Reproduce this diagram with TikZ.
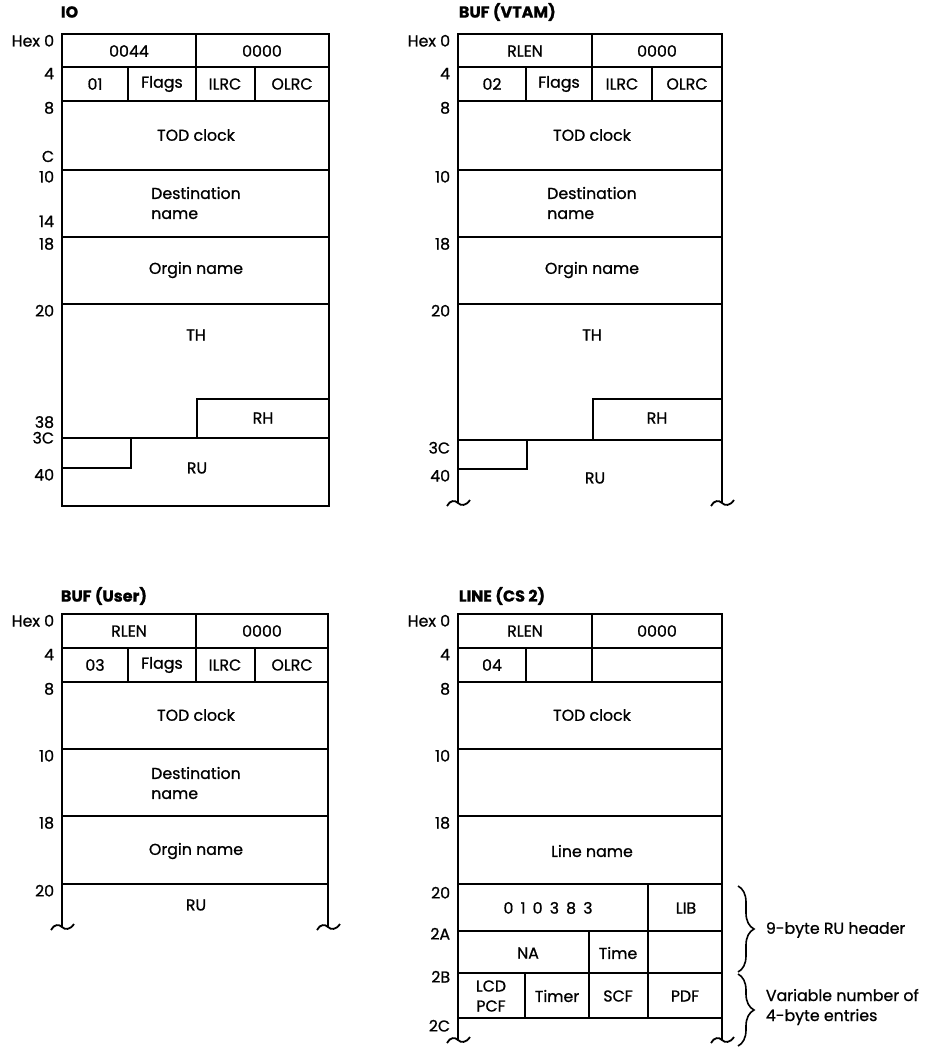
\documentclass[tikz,border=0pt]{standalone}
\usepackage{fontspec}
\setmainfont{Poppins}[FakeBold=0.9]
\usetikzlibrary{decorations.pathreplacing}
\begin{document}
\begin{tikzpicture}[x=0.5pt, y=-0.5pt, line width=0.9pt,
  every node/.style={inner sep=0pt, font=\fontsize{7.9}{10}\selectfont},
  title/.style={anchor=west, font=\fontsize{8}{10}\selectfont\bfseries},
  off/.style={anchor=north east},
  offup/.style={anchor=south east},
  frame/.style={line width=1.2pt},
  lbrace/.style={decorate, decoration={brace, amplitude=8pt}, line width=0.8pt},
  wave/.pic={\draw[line width=0.9pt] (-11,3) .. controls (-8,-3) and (-3,-3) .. (0,0) .. controls (3,3) and (8,3) .. (12,-3);}]
\useasboundingbox (0,0) rectangle (927,1049);

% IO record
\node[title] (io) at (60,12) {IO};
\draw[frame] (62,34) rectangle (329,506);
\foreach \y in {67,101,170,237,304,438} \draw (62,\y) -- (329,\y);
\foreach \x/\a/\b in {196/34/67, 128/67/101, 196/67/101, 255/67/101} \draw (\x,\a) -- (\x,\b);
\draw (197,438) |- (329,399);
\draw (62,468) -| (131,438);
\foreach \t/\y [count=\i] in {Hex 0/34, 4/67, 8/101, 10/170, 18/237, 20/304, 3C/431, 40/468}
  \node[off] (io-o\i) at (55,\y) {\t};
\foreach \t/\y [count=\i] in {C/163, 14/228, 38/429}
  \node[offup] (io-u\i) at (55,\y) {\t};
\foreach \t/\x/\y [count=\i] in {0044/129/51, 0000/262/51, 01/95/84, Flags/162/84, ILRC/225/84, OLRC/292/84,
    TOD clock/196/135, Orgin name/196/270, TH/196/335, RH/263/418, RU/197/468}
  \node (io-c\i) at (\x,\y) {\t};
\node[align=left] (io-dest) at (196,203) {Destination\\name};

% BUF (VTAM) record
\node[title] (vtam) at (458,12) {BUF (VTAM)};
\draw[frame] (458,503) -- (458,34) -- (722,34) -- (722,503);
\foreach \y in {67,101,170,237,304,440} \draw (458,\y) -- (722,\y);
\foreach \x/\a/\b in {592/34/67, 526/67/101, 592/67/101, 652/67/101} \draw (\x,\a) -- (\x,\b);
\draw (593,440) |- (722,399);
\draw (458,469) -| (527,440);
\pic at (458,503) {wave};
\pic at (722,503) {wave};
\foreach \t/\y [count=\i] in {Hex 0/34, 4/67, 8/101, 10/170, 18/237, 20/304, 3C/441, 40/469}
  \node[off] (vt-o\i) at (451,\y) {\t};
\foreach \t/\x/\y [count=\i] in {RLEN/525/51, 0000/657/51, 02/492/84, Flags/559/84, ILRC/622/84, OLRC/687/84,
    TOD clock/592/135, Orgin name/592/270, TH/592/335, RH/657/418, RU/595/478}
  \node (vt-c\i) at (\x,\y) {\t};
\node[align=left] (vt-dest) at (592,203) {Destination\\name};

% BUF (User) record
\node[title] (user) at (60,596) {BUF (User)};
\draw[frame] (62,927) -- (62,614) -- (328,614) -- (328,927);
\foreach \y in {648,682,749,816,884} \draw (62,\y) -- (328,\y);
\foreach \x/\a/\b in {196/614/648, 128/648/682, 196/648/682, 255/648/682} \draw (\x,\a) -- (\x,\b);
\pic at (62,927) {wave};
\pic at (328,927) {wave};
\foreach \t/\y [count=\i] in {Hex 0/614, 4/648, 8/682, 10/749, 18/816, 20/884}
  \node[off] (us-o\i) at (55,\y) {\t};
\foreach \t/\x/\y [count=\i] in {RLEN/129/631, 0000/262/631, 03/95/665, Flags/162/665, ILRC/225/665, OLRC/292/665,
    TOD clock/196/715, Orgin name/196/851, RU/196/905}
  \node (us-c\i) at (\x,\y) {\t};
\node[align=left] (us-dest) at (196,783) {Destination\\name};

% LINE (CS 2) record
\node[title] (line) at (458,596) {LINE (CS 2)};
\draw[frame] (458,1040) -- (458,614) -- (722,614) -- (722,1040);
\foreach \y in {648,682,749,816,884,931,973,1018} \draw (458,\y) -- (722,\y);
\foreach \x/\a/\b in {592/614/648, 526/648/682, 592/648/682, 648/884/973, 589/931/1018, 525/973/1018, 648/973/1018}
  \draw (\x,\a) -- (\x,\b);
\pic at (458,1040) {wave};
\pic at (722,1040) {wave};
\foreach \t/\y [count=\i] in {Hex 0/614, 4/648, 8/682, 10/749, 18/816, 20/886, 2A/927, 2B/970, 2C/1019}
  \node[off] (ln-o\i) at (451,\y) {\t};
\foreach \t/\x/\y [count=\i] in {RLEN/525/631, 0000/657/631, 04/492/665, TOD clock/592/715, Line name/592/851,
    LIB/686/908, NA/528/953, Time/618/953, Timer/557/996, SCF/618/996, PDF/685/996}
  \node (ln-c\i) at (\x,\y) {\t};
\node (ln-lid) at (548,908) {0\hspace{0.45em}1\hspace{0.45em}0\hspace{0.45em}3\hspace{0.45em}8\hspace{0.45em}3};
\node[align=center] (ln-pcf) at (491,996) {LCD\\PCF};

% header and entry braces
\coordinate (hb-top) at (738,886);
\coordinate (hb-bot) at (738,972);
\coordinate (eb-top) at (738,974);
\coordinate (eb-bot) at (738,1046);
\draw[lbrace] (hb-top) -- (hb-bot);
\draw[lbrace] (eb-top) -- (eb-bot);
\node[anchor=west] (hb-txt) at (765,930) {9-byte RU header};
\node[anchor=west, align=left] (eb-txt) at (765,1007) {Variable number of\\4-byte entries};
\end{tikzpicture}
\end{document}
